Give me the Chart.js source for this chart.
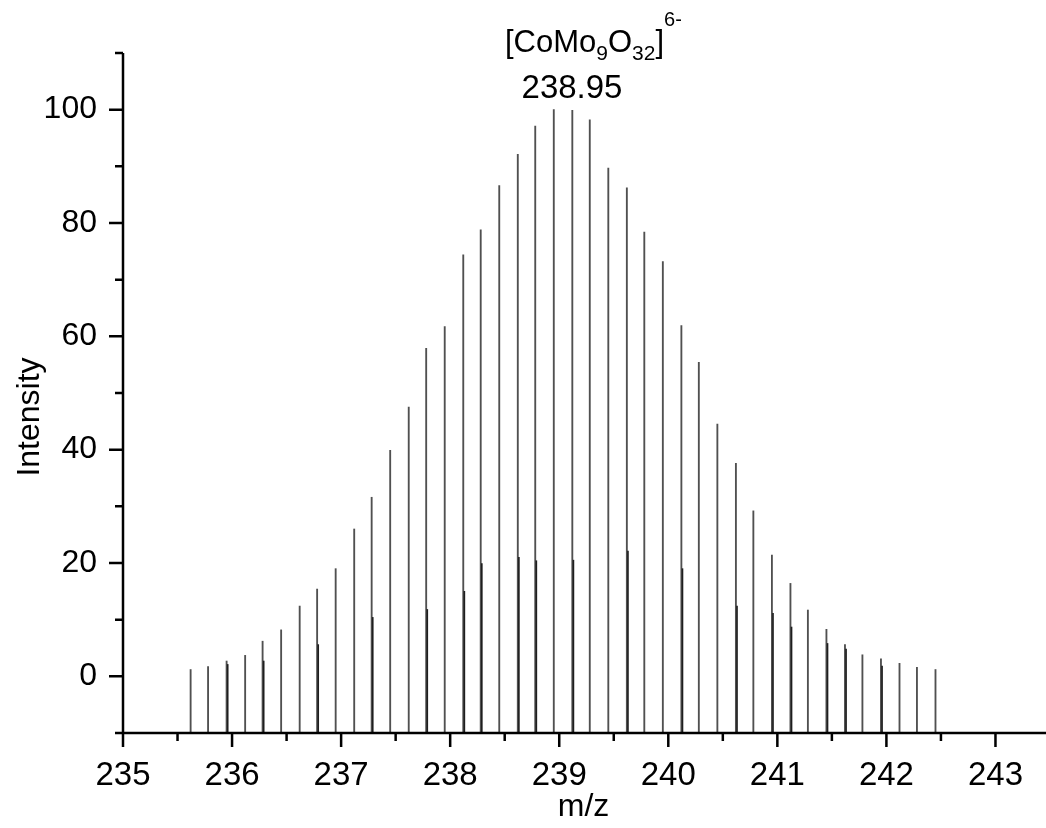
<!DOCTYPE html>
<html>
<head>
<meta charset="utf-8">
<title>[CoMo9O32]6- isotope pattern</title>
<script src="https://cdn.jsdelivr.net/npm/chart.js@4.4.1/dist/chart.umd.min.js"></script>
<style>
  html, body { margin: 0; padding: 0; background: #fff; }
  canvas { display: block; }
</style>
</head>
<body>
<canvas id="spectrum" width="1046" height="828"></canvas>
<script>
// isotope sticks, spacing 1/6 for the 6- ion
const mzValues = [
  235.62, 235.78, 235.95, 236.12, 236.28, 236.45, 236.62, 236.78, 236.95, 237.12,
  237.28, 237.45, 237.62, 237.78, 237.95, 238.12, 238.28, 238.45, 238.62, 238.78,
  238.95, 239.12, 239.28, 239.45, 239.62, 239.78, 239.95, 240.12, 240.28, 240.45,
  240.62, 240.78, 240.95, 241.12, 241.28, 241.45, 241.62, 241.78, 241.95, 242.12,
  242.28, 242.45
];
const intensities = [
  1.2, 1.7, 2.7, 3.7, 6.2, 8.2, 12.4, 15.4, 19.0, 26.0,
  31.6, 39.9, 47.5, 57.9, 61.7, 74.4, 78.8, 86.6, 92.1, 97.1,
  100.0, 99.9, 98.2, 89.7, 86.2, 78.4, 73.2, 61.9, 55.4, 44.5,
  37.6, 29.2, 21.4, 16.4, 11.7, 8.3, 5.6, 3.8, 3.1, 2.3,
  1.6, 1.2
];

// second, weaker set of sticks lying just beside the main ones
const overlapMz = [
  235.96, 236.29, 236.79, 237.29, 237.79, 238.13, 238.29, 238.63, 238.79, 239.13,
  239.63, 240.13, 240.63, 240.96, 241.13, 241.46, 241.63, 241.96
];
const overlapIntensities = [
  2.1, 2.7, 5.6, 10.4, 11.8, 15.0, 19.9, 21.0, 20.4, 20.5,
  22.1, 19.0, 12.4, 11.1, 8.7, 5.8, 4.8, 1.8
];

const xTickValues = [235, 236, 237, 238, 239, 240, 241, 242, 243];
const xMinorTicks = [235.5, 236.5, 237.5, 238.5, 239.5, 240.5, 241.5, 242.5];
const yTickValues = [0, 20, 40, 60, 80, 100];
const yMinorTicks = [-10, 10, 30, 50, 70, 90, 110];

const peakLabel = '238.95';
const FONT = '"Liberation Sans", Arial, sans-serif';

function toPoints(xs, ys) {
  return xs.map((x, i) => ({ x: x, y: ys[i] }));
}

// axes with outward major/minor ticks, titles and the ion formula
const frame = {
  id: 'frame',
  afterDraw(chart) {
    const ctx = chart.ctx;
    const xs = chart.scales.x;
    const ys = chart.scales.y;
    const area = chart.chartArea;
    const x0 = xs.getPixelForValue(xs.min);
    const y0 = ys.getPixelForValue(ys.min);
    const yTop = ys.getPixelForValue(ys.max);

    ctx.save();
    ctx.strokeStyle = '#000';
    ctx.lineWidth = 2.5;
    ctx.beginPath();
    ctx.moveTo(x0, yTop);
    ctx.lineTo(x0, y0);
    ctx.moveTo(x0, y0);
    ctx.lineTo(chart.width, y0);

    xTickValues.forEach(v => {
      const p = xs.getPixelForValue(v);
      ctx.moveTo(p, y0);
      ctx.lineTo(p, y0 + 14);
    });
    xMinorTicks.forEach(v => {
      const p = xs.getPixelForValue(v);
      ctx.moveTo(p, y0);
      ctx.lineTo(p, y0 + 8);
    });
    yTickValues.forEach(v => {
      const p = ys.getPixelForValue(v);
      ctx.moveTo(x0, p);
      ctx.lineTo(x0 - 14, p);
    });
    yMinorTicks.forEach(v => {
      const p = ys.getPixelForValue(v);
      ctx.moveTo(x0, p);
      ctx.lineTo(x0 - 8, p);
    });
    ctx.stroke();

    ctx.fillStyle = '#000';
    ctx.textBaseline = 'middle';
    ctx.textAlign = 'center';
    ctx.font = '32px ' + FONT;
    ctx.fillText('m/z', (area.left + area.right) / 2, 807);

    ctx.save();
    ctx.translate(30, 417);
    ctx.rotate(-Math.PI / 2);
    ctx.fillText('Intensity', 0, 0);
    ctx.restore();

    // [CoMo9O32]6-
    ctx.textAlign = 'left';
    ctx.textBaseline = 'alphabetic';
    let cx = 505;
    const base = 52;
    const part = (txt, size, dy) => {
      ctx.font = size + 'px ' + FONT;
      ctx.fillText(txt, cx, base + dy);
      cx += ctx.measureText(txt).width;
    };
    part('[CoMo', 31, 0);
    part('9', 21, 8);
    part('O', 31, 0);
    part('32', 21, 8);
    part(']', 31, 0);
    part('6-', 20, -26);

    ctx.textAlign = 'center';
    ctx.font = '33px ' + FONT;
    ctx.fillText(peakLabel, 572, 98);
    ctx.restore();
  }
};

new Chart(document.getElementById('spectrum'), {
  type: 'bar',
  data: {
    datasets: [
      {
        label: 'main',
        data: toPoints(mzValues, intensities),
        backgroundColor: '#505050',
        barThickness: 1.2,
        base: -10,
        grouped: false,
        order: 1
      },
      {
        label: 'overlap',
        data: toPoints(overlapMz, overlapIntensities),
        backgroundColor: '#1e1e1e',
        barThickness: 1,
        base: -10,
        grouped: false,
        order: 0
      }
    ]
  },
  options: {
    responsive: false,
    animation: false,
    devicePixelRatio: 1,
    layout: { padding: { top: 53, right: 0, left: 0, bottom: 0 } },
    plugins: { legend: { display: false }, tooltip: { enabled: false } },
    scales: {
      x: {
        type: 'linear',
        min: 235,
        max: 243.445,
        offset: false,
        afterBuildTicks: s => { s.ticks = xTickValues.map(v => ({ value: v })); },
        afterFit: s => { s.height = 95; },
        grid: { display: false, drawTicks: false },
        border: { display: false },
        ticks: {
          autoSkip: false,
          maxRotation: 0,
          padding: 23,
          color: '#000',
          font: { family: FONT, size: 33 }
        }
      },
      y: {
        type: 'linear',
        min: -10,
        max: 110,
        afterBuildTicks: s => { s.ticks = yTickValues.map(v => ({ value: v })); },
        afterFit: s => { s.width = 123; },
        grid: { display: false, drawTicks: false },
        border: { display: false },
        ticks: {
          padding: 26,
          color: '#000',
          font: { family: FONT, size: 32 }
        }
      }
    }
  },
  plugins: [frame]
});
</script>
</body>
</html>
